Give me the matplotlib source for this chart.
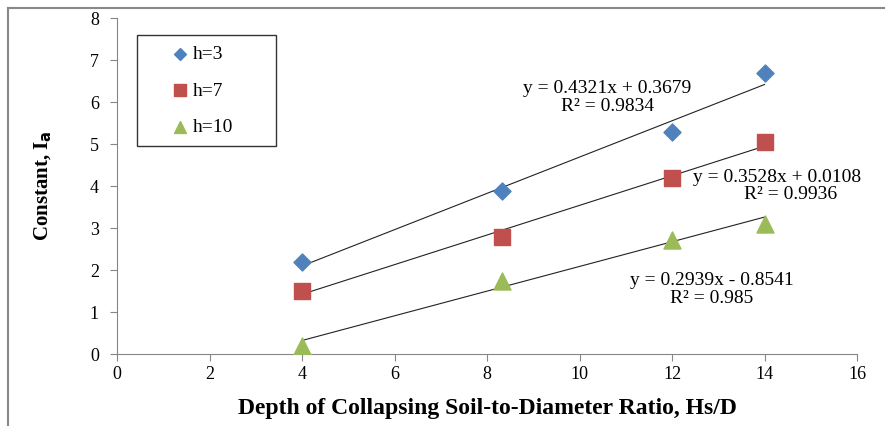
import numpy as np
import matplotlib.pyplot as plt
from matplotlib.lines import Line2D

plt.rcParams['font.family'] = ['Liberation Serif', 'DejaVu Serif']

# data
ratio = [4, 8.33, 12, 14]
h3 = [2.2, 3.87, 5.28, 6.7]
h7 = [1.5, 2.78, 4.2, 5.05]
h10 = [0.18, 1.75, 2.72, 3.1]

fits = [(0.4321, 0.3679), (0.3528, 0.0108), (0.2939, -0.8541)]
eq_lines = ['y = 0.4321x + 0.3679', 'y = 0.3528x + 0.0108', 'y = 0.2939x - 0.8541']
r2_lines = ['R² = 0.9834', 'R² = 0.9936', 'R² = 0.985']

fig = plt.figure(figsize=(8.85, 4.26), dpi=100)
ax = fig.add_axes([0.1322, 0.169, 0.8362, 0.7887])

# outer frame of the picture (left and top edges)
fig.add_artist(Line2D([0.009, 0.009], [0, 0.981], color='#888888', lw=1.5))
fig.add_artist(Line2D([0.009, 1.0], [0.981, 0.981], color='#888888', lw=1.5))

ax.scatter(ratio, h3, marker='D', s=75, color='#4F81BD', label='h=3', zorder=3)
ax.scatter(ratio, h7, marker='s', s=130, color='#C0504D', label='h=7', zorder=3)
ax.scatter(ratio, h10, marker='^', s=150, color='#9BBB59', label='h=10', zorder=3)

xs = np.array([4, 14])
for m, c in fits:
    ax.plot(xs, m * xs + c, color='#222222', lw=0.8, zorder=2)

# trendline equations
eqkw = dict(fontsize=14, va='center', clip_on=False)
ax.text(10.6, 6.33, eq_lines[0], ha='center', **eqkw)
ax.text(10.6, 5.9, r2_lines[0], ha='center', **eqkw)
ax.text(12.45, 4.21, eq_lines[1], ha='left', **eqkw)
ax.text(14.57, 3.79, r2_lines[1], ha='center', **eqkw)
ax.text(12.86, 1.74, eq_lines[2], ha='center', **eqkw)
ax.text(12.86, 1.33, r2_lines[2], ha='center', **eqkw)

ax.set_xlim(0, 16)
ax.set_ylim(0, 8)
ax.set_xticks(range(0, 17, 2))
ax.set_yticks(range(0, 9))
for s in ['top', 'right']:
    ax.spines[s].set_visible(False)
for s in ['left', 'bottom']:
    ax.spines[s].set_color('#868686')
ax.tick_params(direction='out', length=5, color='#868686', labelsize=13)
ax.tick_params(axis='y', pad=8)

ax.set_xlabel('Depth of Collapsing Soil-to-Diameter Ratio, Hs/D',
              fontsize=17, fontweight='bold', labelpad=11)
ax.set_ylabel('Constant, I$_\\mathbf{a}$', fontsize=15, fontweight='bold',
              labelpad=26)

leg = ax.legend(loc='upper left', bbox_to_anchor=(0.027, 0.6, 0.188, 0.349),
                mode='expand', borderaxespad=0.0, frameon=True, fancybox=False,
                edgecolor='black', fontsize=14, handletextpad=-1.0,
                labelspacing=0.95, borderpad=0.55, handlelength=3.3,
                markerscale=0.7)
leg.get_frame().set_linewidth(1.0)

fig.savefig('out.png', dpi=100)
